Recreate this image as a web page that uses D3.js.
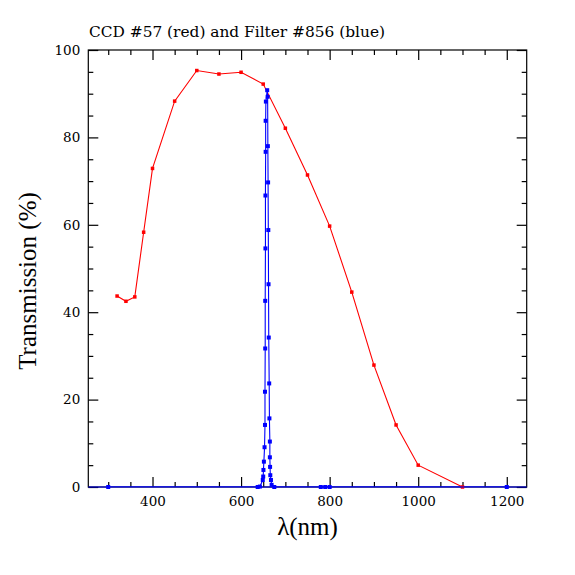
<!DOCTYPE html>
<html>
<head>
	<title>CCD and Filter</title>
	<script src="https://d3js.org/d3.v7.min.js"></script>
	<style type="text/css">
		body{ margin: 0; background: #fff; }
		text{ font-family: "DejaVu Serif", serif; fill: #000; }
	</style>
</head>
<body>
<script type="text/javascript">
	// CCD #57 quantum efficiency (red)
	var ccdWavelength   = [320, 340, 360, 380, 400, 450, 500, 550, 600, 650, 700, 750, 800, 850, 900, 950, 1000, 1100]
	var ccdTransmission = [43.7, 42.5, 43.5, 58.3, 72.9, 88.3, 95.3, 94.5, 94.9, 92.2, 82.1, 71.4, 59.7, 44.6, 27.9, 14.2, 5.0, 0.0]

	// Filter #856 (blue)
	var filterWavelength = [300, 637.5, 642.5, 649, 650, 650.5, 651.5, 653, 654, 654, 654.5, 654.5, 655, 655, 655.5, 655.5, 656, 659,
		660, 660.5, 661, 661.5, 662, 662.5, 663.5, 664, 665, 665, 665.5, 666, 667.5, 669, 675, 780, 790, 800, 1200]
	var filterTransmission = [0, 0, 0.1, 1.6, 2.4, 3.9, 5.8, 9.1, 14.2, 21.8, 31.7, 42.6, 54.6, 66.7, 76.7, 83.8, 88.2, 90.8,
		89.3, 78.0, 69.7, 58.8, 46.4, 34.2, 23.7, 15.7, 10.4, 6.8, 4.6, 2.7, 1.6, 0.5, 0, 0, 0, 0, 0]

	var xMajor = [400, 600, 800, 1000, 1200]
	var yMajor = [0, 20, 40, 60, 80, 100]
	var title = "CCD #57 (red) and Filter #856 (blue)"
	var xLabel = "\u03bb(nm)"
	var yLabel = "Transmission (%)"

	var W = 575, H = 575
	var pL = 88.3, pR = 526.7, pT = 50, pB = 487

	var x = d3.scaleLinear().domain([255, 1245]).range([pL, pR])
	var y = d3.scaleLinear().domain([0, 100]).range([pB, pT])

	var xMinor = d3.range(300, 1245, 50).filter(function(d){ return xMajor.indexOf(d) < 0 })
	var yMinor = d3.range(0, 100, 5).filter(function(d){ return yMajor.indexOf(d) < 0 })

	var svg = d3.select("body").append("svg").attr("width", W).attr("height", H)
	svg.append("rect").attr("width", W).attr("height", H).attr("fill", "#fff")

	svg.append("clipPath").attr("id", "clip").append("rect")
		.attr("x", pL).attr("y", pT).attr("width", pR - pL).attr("height", pB - pT)

	// frame
	svg.append("rect").attr("x", pL).attr("y", pT).attr("width", pR - pL).attr("height", pB - pT)
		.attr("fill", "none").attr("stroke", "#000").attr("stroke-width", 1.2)

	function styleAxis(g){
		g.select(".domain").remove()
		g.selectAll(".tick line").attr("stroke", "#000").attr("stroke-width", 1.2)
		g.selectAll(".tick text").attr("font-size", 13.5).attr("font-family", "DejaVu Serif")
	}

	// major ticks, inward
	svg.append("g").attr("transform", "translate(0," + pB + ")")
		.call(d3.axisBottom(x).tickValues(xMajor).tickSize(-10).tickPadding(9.5).tickFormat(d3.format("d"))).call(styleAxis)
	svg.append("g").attr("transform", "translate(0," + pT + ")")
		.call(d3.axisTop(x).tickValues(xMajor).tickSize(-10).tickFormat("")).call(styleAxis)
	svg.append("g").attr("transform", "translate(" + pL + ",0)")
		.call(d3.axisLeft(y).tickValues(yMajor).tickSize(-10).tickPadding(8).tickFormat(d3.format("d"))).call(styleAxis)
	svg.append("g").attr("transform", "translate(" + pR + ",0)")
		.call(d3.axisRight(y).tickValues(yMajor).tickSize(-10).tickFormat("")).call(styleAxis)

	// minor ticks
	svg.append("g").attr("transform", "translate(0," + pB + ")")
		.call(d3.axisBottom(x).tickValues(xMinor).tickSize(-5).tickFormat("")).call(styleAxis)
	svg.append("g").attr("transform", "translate(0," + pT + ")")
		.call(d3.axisTop(x).tickValues(xMinor).tickSize(-5).tickFormat("")).call(styleAxis)
	svg.append("g").attr("transform", "translate(" + pL + ",0)")
		.call(d3.axisLeft(y).tickValues(yMinor).tickSize(-5).tickFormat("")).call(styleAxis)
	svg.append("g").attr("transform", "translate(" + pR + ",0)")
		.call(d3.axisRight(y).tickValues(yMinor).tickSize(-5).tickFormat("")).call(styleAxis)

	var lines = svg.append("g").attr("clip-path", "url(#clip)")
	var marks = svg.append("g")

	function drawSeries(xs, ys, color, size){
		var pts = xs.map(function(d, i){ return [d, ys[i]] })
		var line = d3.line().x(function(d){ return x(d[0]) }).y(function(d){ return y(d[1]) })
		lines.append("path").datum(pts).attr("d", line)
			.attr("fill", "none").attr("stroke", color).attr("stroke-width", 1.1)
		marks.selectAll(null).data(pts).enter().append("rect")
			.attr("x", function(d){ return x(d[0]) - size / 2 })
			.attr("y", function(d){ return y(d[1]) - size / 2 })
			.attr("width", size).attr("height", size)
			.attr("fill", color)
	}

	// bottom edge shows the filter's zero level
	svg.append("line").attr("x1", pL).attr("x2", pR).attr("y1", pB).attr("y2", pB)
		.attr("stroke", "#0000ff").attr("stroke-width", 1.1)

	drawSeries(ccdWavelength, ccdTransmission, "#ff0000", 3.5)
	drawSeries(filterWavelength, filterTransmission, "#0000ff", 4)

	svg.append("text").attr("x", 89).attr("y", 36.7).attr("font-size", 14)
		.attr("textLength", 296).attr("lengthAdjust", "spacingAndGlyphs").text(title)

	svg.append("text").attr("x", (pL + pR) / 2).attr("y", 535).attr("text-anchor", "middle")
		.attr("font-size", 25).style("font-family", "Liberation Serif").text(xLabel)

	svg.append("text").attr("transform", "translate(36,281) rotate(-90)").attr("text-anchor", "middle")
		.attr("font-size", 25).style("font-family", "Liberation Serif").text(yLabel)
</script>
</body>
</html>
